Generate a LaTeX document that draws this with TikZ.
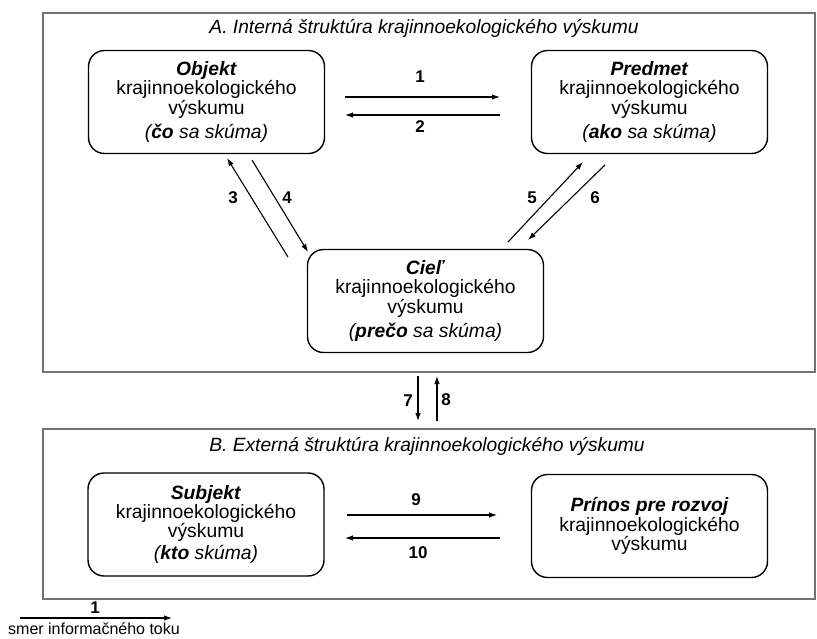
\documentclass[tikz,border=0pt]{standalone}
\usepackage{fontspec}
\setmainfont{Liberation Sans}
\usetikzlibrary{arrows.meta}
\begin{document}
\begin{tikzpicture}[x=1pt,y=-1pt,
  frame/.style={draw=black!55, line width=2pt, inner sep=0pt, anchor=north west},
  box/.style={draw, line width=1.4pt, rounded corners=16pt, minimum width=236pt, minimum height=103pt, align=center, inner sep=0pt, font=\fontsize{19.3}{19.2}\selectfont},
  arr/.style={line width=1.1pt, -{Latex[length=8pt,width=5.5pt]}},
  num/.style={font=\fontsize{17}{17}\selectfont\bfseries},
  ttl/.style={font=\fontsize{19.2}{19}\selectfont\itshape}]
\useasboundingbox (0,0) rectangle (817,638);
% frames
\node[frame, minimum width=772pt, minimum height=359pt] (frA) at (42,12) {};
\node[frame, minimum width=772pt, minimum height=170pt] (frB) at (42,428) {};
\node[ttl] (tA) at (424,28) {A. Interná štruktúra krajinnoekologického výskumu};
\node[ttl] (tB) at (427,446) {B. Externá štruktúra krajinnoekologického výskumu};
% boxes
\node[box] (obj) at (206.5,102) {\textbf{\textit{Objekt}}\\krajinnoekologického\\výskumu\\[5pt]\textit{(\textbf{čo} sa skúma)}};
\node[box] (pred) at (649.5,102) {\textbf{\textit{Predmet}}\\krajinnoekologického\\výskumu\\[5pt]\textit{(\textbf{ako} sa skúma)}};
\node[box] (ciel) at (425.5,301) {\textbf{\textit{Cieľ}}\\krajinnoekologického\\výskumu\\[5pt]\textit{(\textbf{prečo} sa skúma)}};
\node[box] (subj) at (206,524.5) {\textbf{\textit{Subjekt}}\\krajinnoekologického\\výskumu\\[3pt]\textit{(\textbf{kto} skúma)}};
\node[box] (prin) at (649.5,526) {\textbf{\textit{Prínos pre rozvoj}}\\krajinnoekologického\\výskumu};
% arrow end points
\coordinate (a1s) at (345,97);  \coordinate (a1e) at (500,97);
\coordinate (a2s) at (500,115); \coordinate (a2e) at (345,115);
\coordinate (a3s) at (288,257); \coordinate (a3e) at (227,158);
\coordinate (a4s) at (252,160); \coordinate (a4e) at (308,252);
\coordinate (a5s) at (508,242); \coordinate (a5e) at (583,162);
\coordinate (a6s) at (605,165); \coordinate (a6e) at (528,240);
\coordinate (a7s) at (418,376); \coordinate (a7e) at (418,421);
\coordinate (a8s) at (437,421); \coordinate (a8e) at (437,376);
\coordinate (a9s) at (347,515); \coordinate (a9e) at (497,515);
\coordinate (a10s) at (500,538); \coordinate (a10e) at (345,538);
\coordinate (lgs) at (20,618); \coordinate (lge) at (172,618);
% arrows
\draw[arr] (a1s) -- (a1e);
\draw[arr] (a2s) -- (a2e);
\draw[arr] (a3s) -- (a3e);
\draw[arr] (a4s) -- (a4e);
\draw[arr] (a5s) -- (a5e);
\draw[arr] (a6s) -- (a6e);
\draw[arr] (a7s) -- (a7e);
\draw[arr] (a8s) -- (a8e);
\draw[arr] (a9s) -- (a9e);
\draw[arr] (a10s) -- (a10e);
\draw[arr] (lgs) -- (lge);
% labels
\node[num] (n1) at (420,77) {1};
\node[num] (n2) at (420,127) {2};
\node[num] (n3) at (233,198) {3};
\node[num] (n4) at (287,198) {4};
\node[num] (n5) at (532,198) {5};
\node[num] (n6) at (595,198) {6};
\node[num] (n7) at (408,401) {7};
\node[num] (n8) at (446,400) {8};
\node[num] (n9) at (416,500) {9};
\node[num] (n10) at (418,553) {10};
\node[num] (nl) at (95,608) {1};
\node[font=\fontsize{16}{16}\selectfont, inner sep=1pt] (lgt) at (94,629) {smer informačného toku};
\end{tikzpicture}
\end{document}
